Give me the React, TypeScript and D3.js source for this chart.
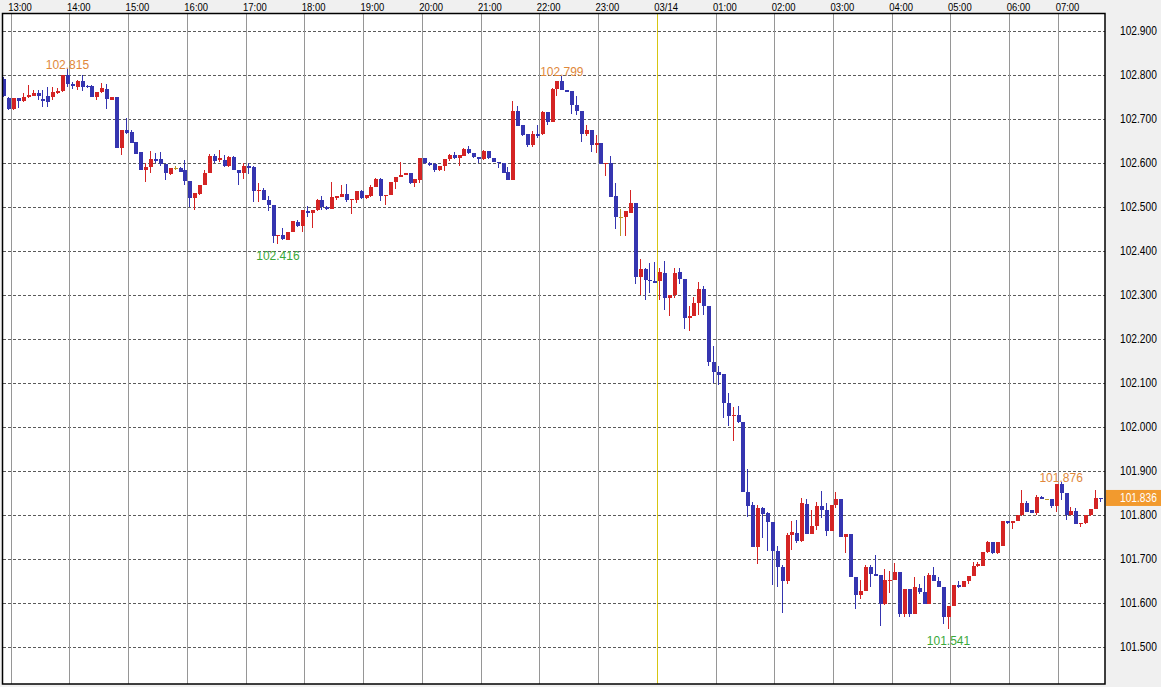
import React from 'react';
import * as d3 from 'd3';

// ---- data (5-minute candles) ----
const opens = [
102.791,102.748,102.724,102.748,102.742,102.750,102.754,102.759,102.746,102.752,
102.750,102.759,102.765,102.800,102.780,102.774,102.786,102.776,102.776,102.750,
102.761,102.770,102.745,102.750,102.634,102.676,102.672,102.649,102.625,102.584,
102.591,102.610,102.610,102.598,102.576,102.589,102.589,102.584,102.560,102.521,
102.531,102.551,102.578,102.617,102.608,102.608,102.593,102.614,102.585,102.579,
102.594,102.591,102.536,102.540,102.517,102.506,102.434,102.437,102.426,102.443,
102.467,102.458,102.492,102.487,102.493,102.517,102.500,102.497,102.521,102.523,
102.531,102.516,102.517,102.537,102.521,102.526,102.546,102.565,102.526,102.528,
102.557,102.568,102.574,102.577,102.555,102.562,102.611,102.600,102.598,102.585,
102.594,102.609,102.619,102.611,102.617,102.632,102.623,102.614,102.609,102.629,
102.611,102.604,102.601,102.580,102.563,102.718,102.686,102.667,102.641,102.667,
102.667,102.716,102.695,102.769,102.786,102.766,102.764,102.733,102.720,102.666,
102.676,102.642,102.646,102.598,102.601,102.525,102.477,102.477,102.488,102.510,
102.341,102.360,102.335,102.333,102.332,102.351,102.294,102.301,102.353,102.337,
102.248,102.254,102.282,102.315,102.275,102.148,102.126,102.122,102.055,102.026,
102.029,102.012,101.853,101.823,101.729,101.816,101.806,101.784,101.720,101.682,
101.651,101.755,101.759,101.742,101.825,101.757,101.776,101.821,101.811,101.764,
101.823,101.836,101.750,101.758,101.659,101.620,101.628,101.683,101.666,101.664,
101.598,101.651,101.653,101.671,101.576,101.632,101.576,101.634,101.626,101.598,
101.664,101.651,101.638,101.568,101.595,101.642,101.638,101.651,101.662,101.685,
101.685,101.717,101.740,101.714,101.730,101.786,101.782,101.787,101.801,101.827,
101.811,101.805,101.841,101.836,101.836,101.822,101.871,101.850,101.801,101.810,
101.780,101.782,101.801,101.814,101.839,
];

const highs = [
102.797,102.750,102.748,102.749,102.759,102.777,102.767,102.767,102.767,102.774,
102.774,102.772,102.800,102.815,102.784,102.790,102.800,102.777,102.777,102.761,
102.782,102.780,102.751,102.751,102.676,102.702,102.676,102.649,102.625,102.600,
102.629,102.623,102.625,102.598,102.589,102.594,102.591,102.608,102.560,102.532,
102.551,102.585,102.621,102.621,102.631,102.619,102.617,102.617,102.585,102.600,
102.600,102.594,102.555,102.544,102.525,102.506,102.438,102.452,102.445,102.468,
102.471,102.495,102.502,102.494,102.519,102.526,102.502,102.558,102.525,102.551,
102.553,102.519,102.537,102.540,102.528,102.551,102.566,102.566,102.528,102.558,
102.568,102.602,102.579,102.577,102.565,102.611,102.611,102.604,102.600,102.594,
102.609,102.621,102.626,102.619,102.634,102.640,102.624,102.615,102.630,102.629,
102.613,102.604,102.601,102.592,102.742,102.731,102.686,102.667,102.674,102.688,
102.718,102.716,102.771,102.788,102.799,102.766,102.764,102.754,102.720,102.688,
102.676,102.665,102.646,102.601,102.616,102.555,102.496,102.491,102.540,102.510,
102.382,102.362,102.373,102.375,102.362,102.377,102.301,102.362,102.361,102.337,
102.275,102.297,102.330,102.322,102.275,102.184,102.140,102.122,102.078,102.046,
102.049,102.012,101.905,101.830,101.824,101.818,101.808,101.784,101.730,101.687,
101.760,101.786,101.789,101.839,101.836,101.812,101.831,101.855,101.827,101.823,
101.852,101.836,101.758,101.758,101.659,101.654,101.686,101.686,101.710,101.664,
101.677,101.673,101.691,101.671,101.632,101.632,101.659,101.645,101.662,101.668,
101.683,101.660,101.638,101.595,101.642,101.650,101.651,101.662,101.695,101.693,
101.717,101.742,101.740,101.740,101.786,101.786,101.787,101.801,101.858,101.833,
101.812,101.846,101.844,101.838,101.838,101.871,101.876,101.850,101.820,101.816,
101.782,101.801,101.814,101.858,101.839,
];

const lows = [
102.750,102.721,102.722,102.725,102.740,102.749,102.753,102.744,102.729,102.727,
102.743,102.757,102.763,102.773,102.768,102.767,102.765,102.771,102.750,102.744,
102.760,102.724,102.743,102.634,102.619,102.666,102.646,102.621,102.584,102.557,
102.579,102.600,102.593,102.563,102.574,102.584,102.581,102.551,102.501,102.495,
102.529,102.551,102.578,102.600,102.604,102.592,102.592,102.584,102.550,102.564,
102.575,102.513,102.513,102.517,102.492,102.419,102.416,102.425,102.426,102.443,
102.456,102.443,102.478,102.452,102.492,102.494,102.495,102.497,102.517,102.523,
102.513,102.485,102.509,102.519,102.520,102.524,102.546,102.515,102.505,102.527,
102.541,102.568,102.573,102.553,102.547,102.556,102.599,102.594,102.581,102.583,
102.583,102.606,102.609,102.595,102.617,102.621,102.612,102.600,102.608,102.610,
102.604,102.589,102.578,102.563,102.561,102.684,102.662,102.637,102.637,102.658,
102.665,102.687,102.695,102.752,102.766,102.762,102.713,102.709,102.648,102.662,
102.625,102.623,102.599,102.572,102.523,102.451,102.435,102.434,102.486,102.326,
102.301,102.290,102.305,102.329,102.290,102.267,102.252,102.295,102.325,102.224,
102.218,102.252,102.256,102.256,102.140,102.101,102.097,102.021,102.002,101.970,
102.010,101.853,101.797,101.729,101.689,101.748,101.720,101.642,101.636,101.577,
101.645,101.721,101.736,101.740,101.757,101.757,101.767,101.795,101.754,101.764,
101.816,101.750,101.714,101.659,101.588,101.609,101.627,101.638,101.661,101.548,
101.597,101.623,101.653,101.570,101.570,101.570,101.576,101.621,101.598,101.598,
101.651,101.638,101.553,101.541,101.595,101.635,101.638,101.645,101.662,101.682,
101.685,101.715,101.713,101.711,101.730,101.780,101.770,101.786,101.799,101.808,
101.805,101.801,101.836,101.835,101.816,101.808,101.835,101.789,101.801,101.780,
101.774,101.780,101.799,101.814,101.830,
];

const closes = [
102.752,102.724,102.748,102.742,102.751,102.755,102.759,102.754,102.741,102.739,
102.762,102.765,102.800,102.780,102.775,102.786,102.774,102.773,102.750,102.761,
102.771,102.746,102.751,102.634,102.676,102.670,102.646,102.621,102.584,102.591,
102.610,102.606,102.598,102.578,102.589,102.589,102.581,102.559,102.521,102.532,
102.551,102.578,102.617,102.606,102.612,102.593,102.614,102.584,102.579,102.594,
102.589,102.536,102.540,102.517,102.506,102.434,102.438,102.429,102.444,102.468,
102.458,102.493,102.487,102.494,102.517,102.500,102.497,102.523,102.525,102.531,
102.517,102.519,102.537,102.521,102.528,102.546,102.565,102.526,102.528,102.558,
102.568,102.574,102.577,102.555,102.565,102.611,102.600,102.596,102.585,102.594,
102.609,102.619,102.611,102.619,102.632,102.623,102.614,102.609,102.629,102.611,
102.604,102.600,102.578,102.563,102.720,102.684,102.665,102.641,102.667,102.663,
102.716,102.695,102.769,102.786,102.766,102.763,102.732,102.718,102.666,102.676,
102.641,102.646,102.599,102.601,102.523,102.477,102.477,102.491,102.510,102.341,
102.360,102.334,102.332,102.329,102.353,102.294,102.301,102.351,102.337,102.248,
102.254,102.282,102.315,102.275,102.148,102.125,102.119,102.055,102.025,102.029,
102.012,101.853,101.822,101.729,101.816,101.804,101.784,101.720,101.682,101.651,
101.755,101.761,101.742,101.827,101.757,101.776,101.821,101.811,101.764,101.823,
101.836,101.750,101.758,101.659,101.620,101.628,101.683,101.666,101.662,101.598,
101.653,101.654,101.671,101.576,101.632,101.576,101.636,101.626,101.598,101.664,
101.651,101.638,101.568,101.595,101.642,101.638,101.651,101.662,101.685,101.689,
101.717,101.740,101.714,101.740,101.786,101.782,101.787,101.801,101.827,101.808,
101.805,101.841,101.836,101.836,101.822,101.871,101.850,101.801,101.810,101.780,
101.782,101.801,101.814,101.839,101.836,
];

// hour grid lines: label and the candle index that starts that hour
const hourLabels = ['13:00','14:00','15:00','16:00','17:00','18:00','19:00','20:00','21:00','22:00','23:00','03/14','01:00','02:00','03:00','04:00','05:00','06:00','07:00'];
const hourStart = [2,14,26,38,50,62,74,86,98,110,122,134,146,158,170,182,194,206,216];
const dateLabel = '03/14';

const priceTicks = [101.5,101.6,101.7,101.8,101.9,102.0,102.1,102.2,102.3,102.4,102.5,102.6,102.7,102.8,102.9];

// annotated extremes (candle indices)
const peakIdx = [13, 114, 216];
const troughIdx = [56, 193];

const W = 1161;
const H = 687;
const PL = 2.5, PT = 13.5, PR = 1105, PB = 684;

const UP = '#d42424';
const DOWN = '#3535b0';
const FLAT = '#b89a2c';

export default function App() {
  const n = closes.length;
  const x = d3.scaleLinear().domain([0, n - 1]).range([3.3, 3.3 + 4.895 * (n - 1)]);
  const y = d3.scaleLinear().domain([101.5, 102.9]).range([647.3, 31.3]);
  const fmt = d3.format('.3f');
  const last = closes[n - 1];
  const yLast = y(last);

  return (
    <svg width={W} height={H} style={{ position: 'absolute', left: 0, top: 0, display: 'block' }}
      fontFamily="'Liberation Sans', Arial, sans-serif">
      <defs>
        <clipPath id="plotClip">
          <rect x={PL + 0.5} y={PT} width={PR - PL - 0.5} height={PB - PT} />
        </clipPath>
      </defs>
      <rect x={0} y={0} width={W} height={H} fill="#f0f0f0" />
      <rect x={PL} y={PT} width={PR - PL} height={PB - PT} fill="#ffffff" />

      {/* horizontal dashed grid */}
      {priceTicks.map((p) => {
        const yy = Math.round(y(p)) + 0.5;
        return (
          <line key={'h' + p} x1={PL} x2={PR} y1={yy} y2={yy} stroke="#5a5a5a" strokeWidth={1}
            strokeDasharray="3,2" shapeRendering="crispEdges" />
        );
      })}

      {/* vertical hour grid */}
      {hourStart.map((b, k) => {
        const xx = Math.round(x(b - 0.5)) + 0.5;
        const isDate = hourLabels[k] === dateLabel;
        return (
          <line key={'v' + k} x1={xx} x2={xx} y1={PT} y2={PB}
            stroke={isDate ? '#d6c612' : '#969696'} strokeWidth={1} shapeRendering="crispEdges" />
        );
      })}

      {/* candles */}
      <g clipPath="url(#plotClip)" shapeRendering="crispEdges">
        {closes.map((c, i) => {
          const o = opens[i];
          const hi = Math.max(highs[i], o, c);
          const lo = Math.min(lows[i], o, c);
          const cx = Math.round(x(i));
          const col = c > o ? UP : c < o ? DOWN : FLAT;
          const yTop = y(Math.max(o, c));
          const yBot = y(Math.min(o, c));
          const bh = Math.max(1, yBot - yTop);
          return (
            <g key={'c' + i}>
              <line x1={cx + 0.5} x2={cx + 0.5} y1={y(hi)} y2={y(lo)} stroke={col} strokeWidth={1} />
              <rect x={cx - 1.5} y={yTop} width={4} height={bh} fill={col} />
            </g>
          );
        })}
      </g>

      {/* extreme annotations */}
      {peakIdx.map((i) => (
        <text key={'pk' + i} x={x(i) + 0.5} y={y(highs[i])} textAnchor="middle" fontSize={12}
          fill="#e0883a">{fmt(highs[i])}</text>
      ))}
      {troughIdx.map((i) => (
        <text key={'tr' + i} x={x(i) + 0.5} y={y(lows[i]) + 15.5} textAnchor="middle" fontSize={12}
          fill="#3aa83a">{fmt(lows[i])}</text>
      ))}

      {/* frame */}
      <rect x={PL} y={PT} width={PR - PL} height={PB - PT} fill="none" stroke="#000" strokeWidth={1.5} />

      {/* time labels (condensed) */}
      {hourStart.map((b, k) => (
        <text key={'t' + k} transform={`translate(${x(b - 0.5) - 2.5},10.7) scale(0.86,1)`}
          fontSize={11} fill="#000">{hourLabels[k]}</text>
      ))}

      {/* price axis (condensed) */}
      {priceTicks.map((p) => (
        <text key={'p' + p} transform={`translate(1120,${y(p) + 4}) scale(0.85,1)`}
          fontSize={12} fill="#000">{fmt(p)}</text>
      ))}

      {/* last price marker */}
      <rect x={1106} y={yLast - 9.5} width={W - 1106} height={16} fill="#f29a2e" />
      <text transform={`translate(1120,${yLast + 3}) scale(0.85,1)`} fontSize={12}
        fill="#ffffff">{fmt(last)}</text>
    </svg>
  );
}
